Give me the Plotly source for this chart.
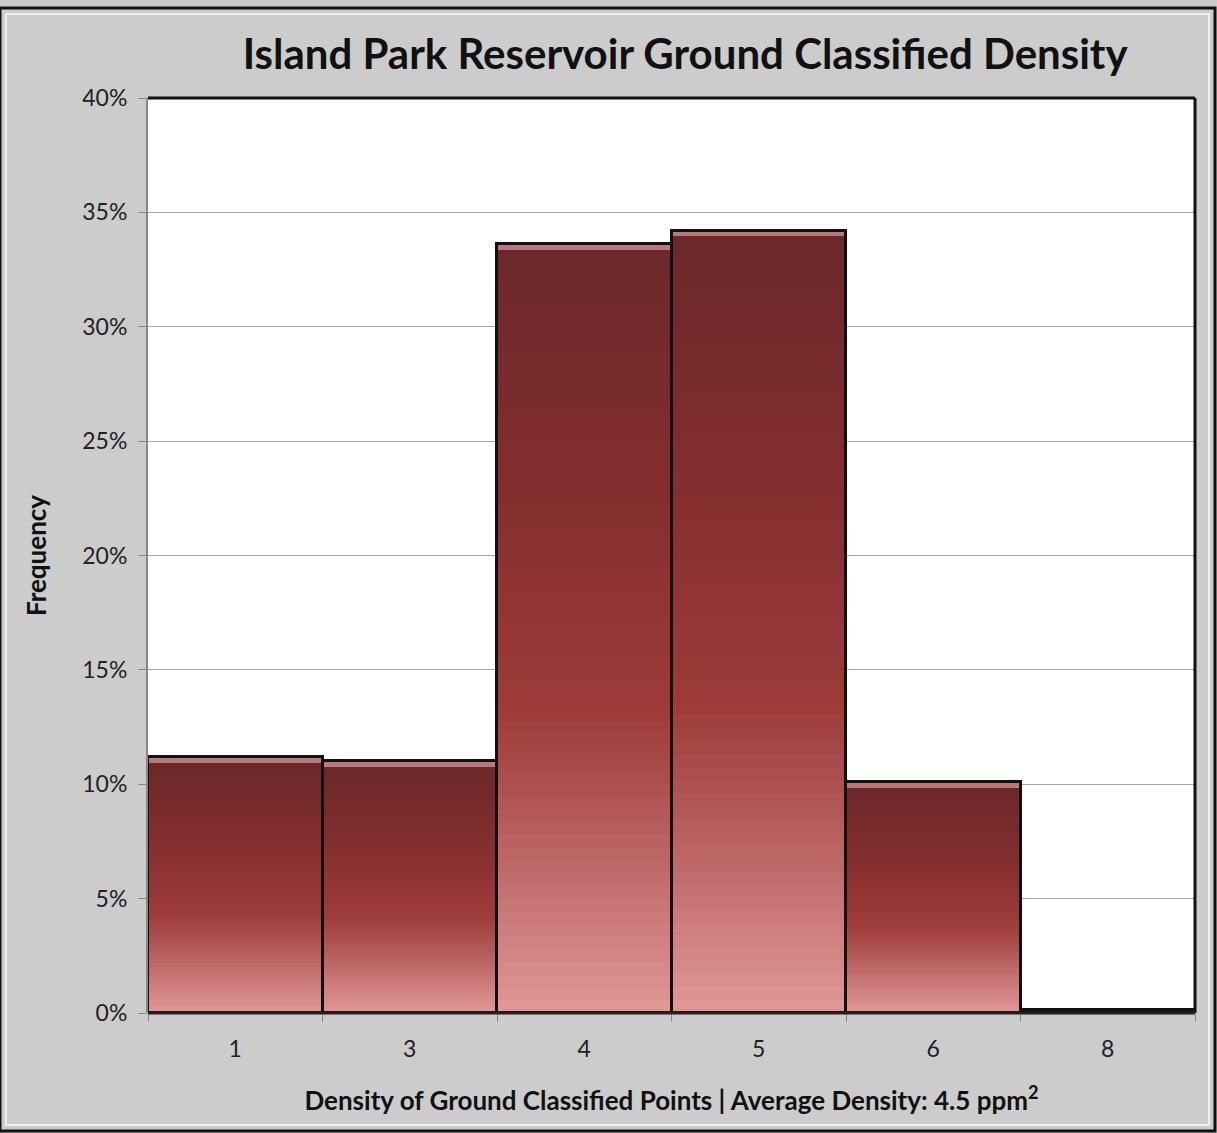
import plotly.graph_objects as go

categories = ["1", "3", "4", "5", "6", "8"]
frequency = [11.2, 11.0, 33.6, 34.2, 10.1, 0.15]
y_ticks = [0, 5, 10, 15, 20, 25, 30, 35, 40]
y_tick_labels = [f"{v}%" for v in y_ticks]

title = "Island Park Reservoir Ground Classified Density"
x_title = "Density of Ground Classified Points | Average Density: 4.5 ppm<sup>2</sup>"
y_title = "Frequency"

# gradient stops: fraction of bar height from top -> colour
stops = [(0.0, (108, 40, 42)), (0.35, (135, 48, 48)), (0.6, (158, 60, 58)),
         (0.8, (190, 105, 105)), (1.0, (228, 155, 155))]

def col_at(t):
    for (t0, c0), (t1, c1) in zip(stops[:-1], stops[1:]):
        if t0 <= t <= t1:
            f = (t - t0) / (t1 - t0) if t1 > t0 else 0
            c = [round(a + (b - a) * f) for a, b in zip(c0, c1)]
            return f"rgb({c[0]},{c[1]},{c[2]})"
    return f"rgb{stops[-1][1]}"

fig = go.Figure()
# top bevel highlight
fig.add_trace(go.Bar(x=categories, y=frequency, width=1.0,
                     marker=dict(color="rgb(190,118,118)", line=dict(width=0)),
                     showlegend=False, hoverinfo="skip"))
inner = [max(v - 0.25, 0) for v in frequency]
N = 60
for k in range(N):
    frac = 1 - k / N
    fig.add_trace(go.Bar(
        x=categories, y=[v * frac for v in inner],
        marker=dict(color=col_at(k / N), line=dict(width=0)),
        width=1.0, showlegend=False, hoverinfo="skip"))
# outline
fig.add_trace(go.Bar(
    x=categories, y=frequency, width=1.0,
    marker=dict(color="rgba(0,0,0,0)", line=dict(color="#111111", width=3)),
    showlegend=False))

fig.update_layout(
    width=1217, height=1133,
    barmode="overlay", bargap=0,
    paper_bgcolor="#cccccc", plot_bgcolor="#ffffff",
    margin=dict(l=148, r=22, t=98, b=120),
    font=dict(family="Lato, Open Sans, sans-serif", color="#111111"),
    title=dict(text=f"<b>{title}</b>", x=0.563, xanchor="center", y=0.952, yanchor="middle",
               font=dict(size=42, color="#111111", weight=900)),
    xaxis=dict(type="category", tickson="boundaries", ticks="outside", ticklen=8,
               tickcolor="#888888", tickfont=dict(size=23, color="#222222"),
               ticklabelstandoff=20,
               showline=False, showgrid=False,
               title=dict(text=f"<b>{x_title}</b>", font=dict(size=26, color="#111111"), standoff=30)),
    yaxis=dict(range=[0, 40], tickvals=y_ticks, ticktext=y_tick_labels, ticks="outside",
               ticklen=8, tickcolor="#888888", tickfont=dict(size=23, color="#222222"),
               ticklabelstandoff=6,
               showgrid=True, gridcolor="#a6a6a6", gridwidth=1,
               showline=True, linecolor="#888888", linewidth=2, zeroline=False,
               title=dict(text=f"<b>{y_title}</b>", font=dict(size=26, color="#111111"), standoff=28)),
    shapes=[
        dict(type="line", xref="paper", yref="paper", x0=0, x1=1, y0=1, y1=1,
             line=dict(color="#111111", width=3)),
        dict(type="line", xref="paper", yref="paper", x0=1, x1=1, y0=0, y1=1,
             line=dict(color="#111111", width=3)),
        dict(type="line", xref="paper", yref="paper", x0=0, x1=1, y0=0, y1=0,
             line=dict(color="#222222", width=3)),
        dict(type="rect", xref="paper", yref="paper",
             x0=-148/1047, x1=1 + 20/1047, y0=-118/915, y1=1 + 90/915,
             line=dict(color="#111111", width=3), layer="above"),
        dict(type="rect", xref="paper", yref="paper",
             x0=-142/1047, x1=1 + 14/1047, y0=-112/915, y1=1 + 84/915,
             line=dict(color="#eeeeee", width=2), layer="above"),
    ],
)

fig.write_html("out.html")
